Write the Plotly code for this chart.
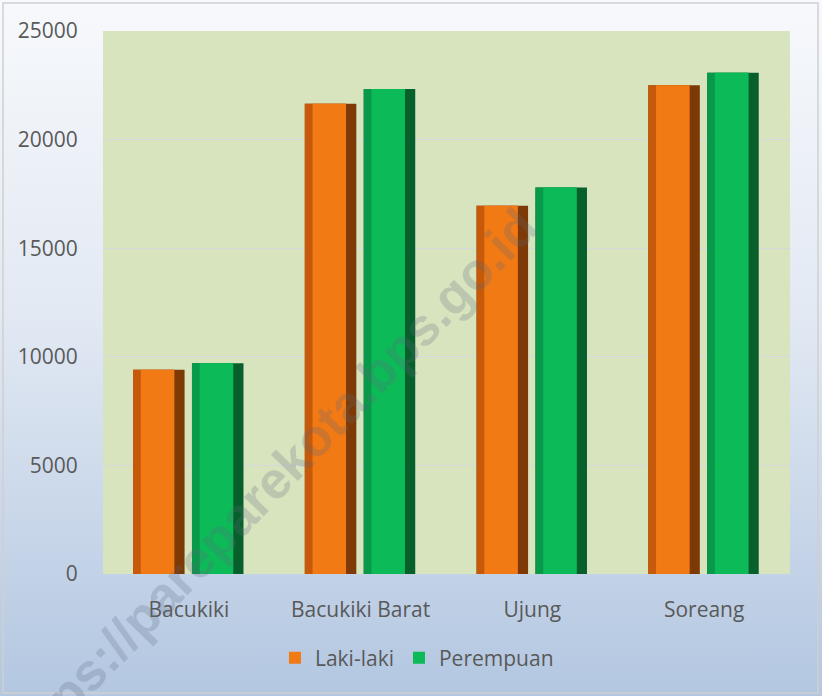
import base64
import plotly.graph_objects as go

categories = ["Bacukiki", "Bacukiki Barat", "Ujung", "Soreang"]
laki_laki = [9400, 21650, 16950, 22500]
perempuan = [9700, 22330, 17800, 23080]
y_ticks = [0, 5000, 10000, 15000, 20000, 25000]
y_tick_text = ["0", "5000", "10000", "15000", "20000", "25000"]
series_names = ["Laki-laki", "Perempuan"]

W, H = 822, 696
ML, MR, MT, MB = 103, 32, 31, 122
pw, ph = W - ML - MR, H - MT - MB

svg = (
    '<svg xmlns="http://www.w3.org/2000/svg" width="100" height="100" preserveAspectRatio="none">'
    '<defs><linearGradient id="g" x1="0" y1="0" x2="0" y2="1">'
    '<stop offset="0" stop-color="#F7F9FC"/><stop offset="0.45" stop-color="#E2E9F3"/>'
    '<stop offset="1" stop-color="#B3C7E1"/></linearGradient></defs>'
    '<rect width="100" height="100" fill="url(#g)"/></svg>'
)
src = "data:image/svg+xml;base64," + base64.b64encode(svg.encode()).decode()

fig = go.Figure()

BW = 0.30          # bar width (category units)
LS, RS = 0.045, 0.06   # bevel strip widths
styles = [
    (laki_laki, series_names[0], -0.325, ("#7E3A06", "#C65A0A", "#F27A14")),
    (perempuan, series_names[1], 0.018, ("#07602C", "#09994A", "#0DBA58")),
]
for rank, (vals, name, off, (dark, mid, bright)) in enumerate(styles):
    fig.add_bar(x=categories, y=vals, name=name, offset=off, width=BW,
                marker=dict(color=dark, line=dict(width=0)), showlegend=False,
                legendgroup=name, hoverinfo="skip")
    fig.add_bar(x=categories, y=vals, name=name, offset=off, width=BW - RS,
                marker=dict(color=mid, line=dict(width=0)), showlegend=False,
                legendgroup=name, hoverinfo="skip")
    fig.add_bar(x=categories, y=vals, name=name, offset=off + LS, width=BW - LS - RS,
                marker=dict(color=bright, line=dict(width=0)), showlegend=True,
                legendgroup=name, legendrank=rank + 1)

fig.update_layout(
    width=W, height=H,
    margin=dict(l=ML, r=MR, t=MT, b=MB, autoexpand=False),
    paper_bgcolor="#F2F5FA",
    plot_bgcolor="rgba(0,0,0,0)",
    barmode="overlay",
    font=dict(family="Open Sans, Lato, sans-serif", size=21, color="#595959"),
    showlegend=True,
    legend=dict(orientation="h", x=0.457, xanchor="center", y=-0.155, yanchor="middle",
                bgcolor="rgba(0,0,0,0)", font=dict(size=21, color="#595959"),
                itemwidth=30, traceorder="normal"),
    xaxis=dict(showgrid=False, zeroline=False, showline=False, automargin=False,
               ticks="outside", ticklen=17, tickcolor="rgba(0,0,0,0)",
               tickfont=dict(size=21, color="#595959")),
    yaxis=dict(range=[0, 25000], tickvals=y_ticks, ticktext=y_tick_text, showgrid=True,
               gridcolor="#D6D8DC", gridwidth=1, zeroline=False, showline=False,
               automargin=False,
               ticks="outside", ticklen=20, tickcolor="rgba(0,0,0,0)",
               tickfont=dict(size=21, color="#595959")),
    images=[dict(source=src, xref="paper", yref="paper",
                 x=-ML / pw, y=1 + MT / ph, sizex=W / pw, sizey=H / ph,
                 xanchor="left", yanchor="top", sizing="stretch", layer="below")],
    shapes=[
        dict(type="rect", xref="paper", yref="paper", x0=0, x1=1, y0=0, y1=1,
             fillcolor="#D8E4BE", line=dict(width=0), layer="below"),
        dict(type="rect", xref="paper", yref="paper",
             x0=(-ML + 3) / pw, x1=(W - ML - 4) / pw,
             y0=(-MB + 3) / ph, y1=1 + (MT - 3) / ph,
             line=dict(color="#D0D0D0", width=1.5), fillcolor="rgba(0,0,0,0)", layer="above"),
    ],
    annotations=[dict(text="<b>https://pareparekota.bps.go.id</b>", xref="paper", yref="paper",
                      x=(268 - ML) / pw, y=(574 - 486) / ph, showarrow=False, textangle=-46,
                      xanchor="center", yanchor="middle",
                      font=dict(family="Liberation Sans, Arial, sans-serif", size=52,
                                color="rgba(90,105,125,0.24)"))],
)

fig.write_html("out.html", config={"displayModeBar": False},
               post_script="document.body.style.margin='0';")
